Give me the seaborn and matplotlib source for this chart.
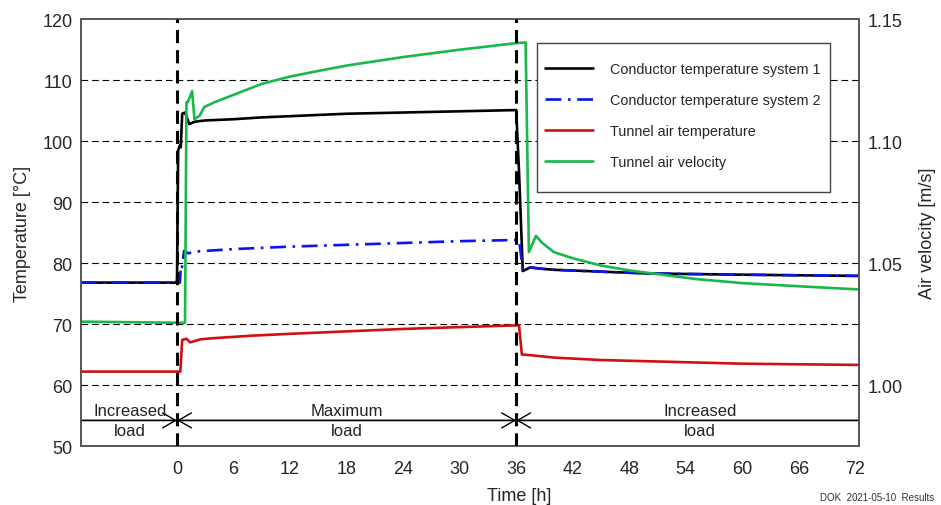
import pandas as pd
import matplotlib
matplotlib.use("Agg")
import matplotlib.pyplot as plt
from matplotlib.patches import Rectangle
import seaborn as sns

# time axis limits [h]
t_min, t_max = -10.2, 72.4

# Conductor temperature system 1 [°C]
t_cond1 = [-10.2, -0.05, 0.0, 0.12, 0.3, 0.4, 0.55, 0.85, 1.3, 1.9, 3, 6, 9, 12, 15, 18, 24, 30,
           36.0, 36.3, 36.7, 37.5, 38.5, 40, 45, 50, 55, 60, 66, 72.4]
cond1 = [76.8, 76.8, 77.5, 98.5, 99.3, 99.0, 104.5, 104.7, 102.8, 103.2, 103.4, 103.6, 103.9, 104.1,
         104.3, 104.5, 104.7, 104.9, 105.1, 95.0, 78.7, 79.3, 79.1, 78.9, 78.6, 78.3, 78.2, 78.1, 78.0, 77.9]

# Conductor temperature system 2 [°C]
t_cond2 = [-10.2, 0.3, 0.4, 0.5, 0.75, 1.2, 2, 6, 12, 18, 24, 30, 36.3, 36.7, 37.5, 38.5, 40, 45,
           50, 55, 60, 66, 72.4]
cond2 = [76.8, 76.8, 79.3, 79.0, 82.0, 81.6, 81.9, 82.3, 82.7, 83.0, 83.3, 83.6, 83.8, 79.0, 79.3,
         79.1, 78.9, 78.6, 78.3, 78.2, 78.1, 78.0, 77.9]

# Tunnel air temperature [°C]
t_air = [-10.2, 0.35, 0.55, 1.0, 1.4, 2.5, 4, 8, 12, 18, 24, 30, 36.3, 36.6, 37.5, 40, 45, 50, 55,
         60, 66, 72.4]
air_temp = [62.2, 62.2, 67.4, 67.6, 67.0, 67.5, 67.7, 68.1, 68.4, 68.8, 69.2, 69.5, 69.8, 65.0, 64.9,
            64.5, 64.1, 63.9, 63.7, 63.5, 63.4, 63.3]

# Tunnel air velocity [m/s]
t_vel = [-10.2, 0.85, 1.0, 1.15, 1.6, 1.85, 2.4, 2.9, 4, 6, 9, 12, 15, 18, 24, 30, 36, 37.0, 37.35,
         38.1, 38.7, 40, 42, 45, 48, 51, 55, 60, 66, 72.4]
air_vel = [1.026, 1.0255, 1.116, 1.116, 1.1205, 1.109, 1.1105, 1.114, 1.116, 1.119, 1.1235, 1.1265,
           1.1288, 1.131, 1.1345, 1.1375, 1.1402, 1.1405, 1.0545, 1.0612, 1.0585, 1.0545, 1.052, 1.049,
           1.047, 1.0455, 1.0435, 1.0418, 1.0405, 1.0392]

x_ticks = [0, 6, 12, 18, 24, 30, 36, 42, 48, 54, 60, 66, 72]
temp_ticks = [50, 60, 70, 80, 90, 100, 110, 120]
vel_ticks = [1.00, 1.05, 1.10, 1.15]

# load phases: (label, text x position)
phase_lines = [0, 36]
phase_labels = [("Increased", "load", -5), ("Maximum", "load", 18), ("Increased", "load", 55.5)]

sns.set_theme(style="white")
plt.rcParams["font.family"] = ["Liberation Sans", "DejaVu Sans"]

fig = plt.figure(figsize=(9.41, 5.06), dpi=100)
ax = fig.add_axes([0.086, 0.1166, 0.827, 0.8434])
ax2 = ax.twinx()

df1 = pd.DataFrame({"t": t_cond1, "v": cond1})
df2 = pd.DataFrame({"t": t_cond2, "v": cond2})
df3 = pd.DataFrame({"t": t_air, "v": air_temp})
df4 = pd.DataFrame({"t": t_vel, "v": air_vel})

sns.lineplot(data=df1, x="t", y="v", ax=ax, color="black", lw=1.9, estimator=None, sort=False,
             label="Conductor temperature system 1")
sns.lineplot(data=df2, x="t", y="v", ax=ax, color="#0a14f0", lw=1.9, estimator=None, sort=False,
             linestyle=(0, (6, 2.5, 1.0, 2.5)), label="Conductor temperature system 2")
sns.lineplot(data=df3, x="t", y="v", ax=ax, color="#d01010", lw=1.9, estimator=None, sort=False,
             label="Tunnel air temperature")
sns.lineplot(data=df4, x="t", y="v", ax=ax2, color="#18b84a", lw=1.9, estimator=None, sort=False,
             label="Tunnel air velocity")

ax.set_xlim(t_min, t_max)
ax.set_ylim(50, 120)
ax2.set_ylim(0.975, 1.15)
ax.set_xticks(x_ticks)
ax.set_yticks(temp_ticks)
ax2.set_yticks(vel_ticks)
ax2.set_yticklabels([f"{v:.2f}" for v in vel_ticks])

ax.grid(False)
ax2.grid(False)
for yv in temp_ticks[1:-1]:
    ax.axhline(yv, color="black", lw=0.8, linestyle=(0, (6, 3.5)), zorder=0.5)

# phase boundaries
for xv in phase_lines:
    ax2.axvline(xv, color="black", lw=2.2, linestyle=(0, (4.3, 2.3)), zorder=5)

# phase bar with arrows
y_bar = 54.2
ax.plot([t_min, t_max], [y_bar, y_bar], color="black", lw=1.0)
aprops = dict(color="black", lw=1.0, shrinkA=0, shrinkB=0, mutation_scale=20)
ax.annotate("", xy=(0, y_bar), xytext=(t_min, y_bar),
            arrowprops=dict(arrowstyle="->,head_length=0.47,head_width=0.27", **aprops))
ax.annotate("", xy=(36, y_bar), xytext=(0, y_bar),
            arrowprops=dict(arrowstyle="<->,head_length=0.47,head_width=0.27", **aprops))
ax.annotate("", xy=(36, y_bar), xytext=(t_max, y_bar),
            arrowprops=dict(arrowstyle="->,head_length=0.47,head_width=0.27", **aprops))
for top, bottom, xv in phase_labels:
    ax.text(xv, 55.8, top, ha="center", va="center", fontsize=12, color="#222222")
    ax.text(xv, 52.6, bottom, ha="center", va="center", fontsize=12, color="#222222")

ax.set_xlabel("Time [h]", fontsize=13)
ax.xaxis.set_label_coords(0.563, -0.095)
ax.set_ylabel("Temperature [°C]", fontsize=13, labelpad=8)
ax2.set_ylabel("Air velocity [m/s]", fontsize=13, labelpad=12)
ax.tick_params(axis="y", labelsize=13, length=0, pad=6)
ax.tick_params(axis="x", labelsize=13, length=0, pad=10)
ax2.tick_params(axis="y", labelsize=13, length=0, pad=6)

for a in (ax, ax2):
    for s in a.spines.values():
        s.set_color("#555555")
        s.set_linewidth(1.2)

# legend with handles from both axes, box drawn separately
h1, l1 = ax.get_legend_handles_labels()
h2, l2 = ax2.get_legend_handles_labels()
ax.get_legend().remove()
ax2.get_legend().remove()
box = Rectangle((0.586, 0.5956), 0.3767, 0.3482, transform=ax2.transAxes, facecolor="white",
                edgecolor="#444444", lw=1.0, zorder=9)
ax2.add_patch(box)
leg = ax2.legend(h1 + h2, l1 + l2, loc="upper left", bbox_to_anchor=(0.5964, 0.9),
                 borderaxespad=0, borderpad=0, fontsize=10.4, frameon=False,
                 handlelength=3.3, handletextpad=1.2, labelspacing=1.18)
leg.set_zorder(10)

fig.text(0.993, 0.006, "DOK  2021-05-10  Results", ha="right", va="bottom", fontsize=7,
         color="#333333")

fig.savefig("out.png", dpi=100)
